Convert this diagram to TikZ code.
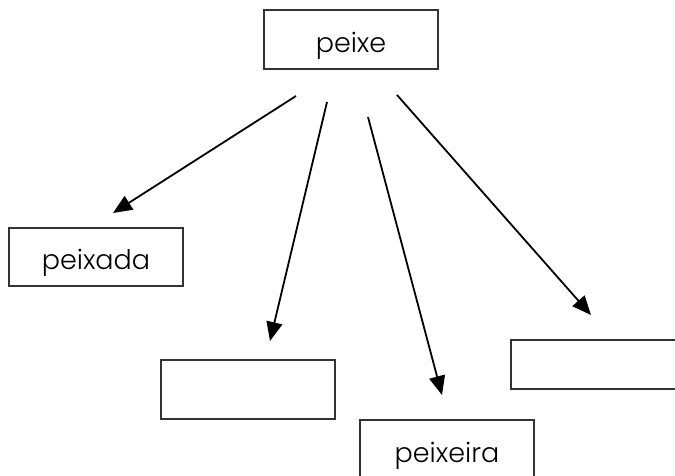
\documentclass[tikz,border=0pt]{standalone}
\usepackage{fontspec}
\setmainfont{Poppins}[UprightFont=* Light]
\usetikzlibrary{arrows.meta}
\begin{document}
\begin{tikzpicture}[x=1pt,y=-1pt,
  box/.style={draw=black!80,line width=1.2pt,minimum width=174pt,inner sep=0pt,text height=25pt,text depth=0pt,font=\fontsize{27}{27}\selectfont},
  arr/.style={line width=1.8pt,-{Triangle[length=19pt,width=16pt]}}]
\useasboundingbox (0,0) rectangle (675,475);
\node[box,minimum height=59pt] (peixe) at (351,39.5) {peixe};
\node[box,minimum height=58pt] (peixada) at (96,257) {peixada};
\node[box,minimum height=59pt] (mid) at (248,389.5) {};
\node[box,minimum height=59pt] (peixeira) at (447,449.5) {peixeira};
\node[box,minimum height=49pt] (right) at (598,364.5) {};
\coordinate (s1) at (296,96);
\coordinate (s2) at (327,102);
\coordinate (s3) at (368,117);
\coordinate (s4) at (397,95);
\coordinate (t1) at (113,213);
\coordinate (t2) at (270,341);
\coordinate (t3) at (442,395);
\coordinate (t4) at (591,315);
\draw[arr] (s1) -- (t1);
\draw[arr] (s2) -- (t2);
\draw[arr] (s3) -- (t3);
\draw[arr] (s4) -- (t4);
\end{tikzpicture}
\end{document}
